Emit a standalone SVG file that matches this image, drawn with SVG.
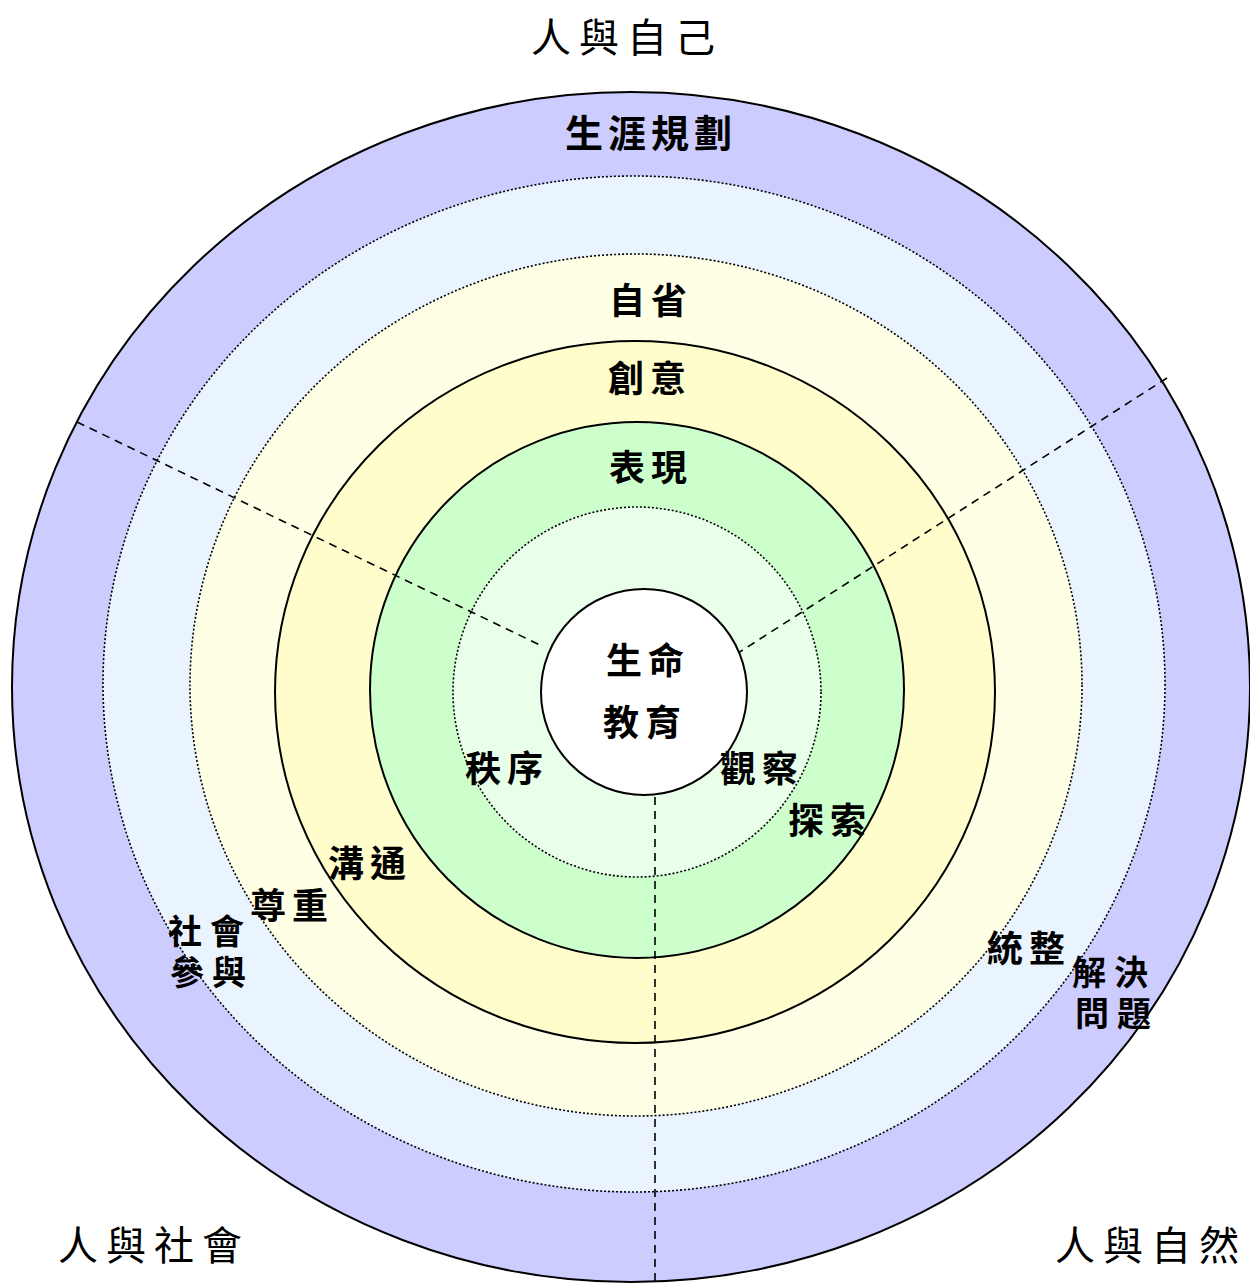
<svg xmlns="http://www.w3.org/2000/svg" width="1250" height="1283" viewBox="0 0 1250 1283">
<style>
.solid{stroke:#000;stroke-width:2}
.dot{stroke:#000;stroke-width:1.6;stroke-dasharray:2 2}
.dash{stroke:#000;stroke-width:1.6;stroke-dasharray:8 6;fill:none}
.lbl{font-family:"Noto Sans CJK TC","Noto Sans CJK SC",sans-serif;font-size:36px;font-weight:bold;letter-spacing:6px;fill:#000}
.stk{font-family:"Noto Sans CJK TC","Noto Sans CJK SC",sans-serif;font-size:34px;font-weight:bold;letter-spacing:8px;fill:#000}
.big{font-family:"Noto Sans CJK TC","Noto Sans CJK SC",sans-serif;font-size:40px;font-weight:normal;letter-spacing:8px;fill:#000}
</style>
<rect width="1250" height="1283" fill="#fff"/>
<g id="ring-career">
<ellipse cx="631" cy="687" rx="619" ry="595" fill="#CCCCFF" class="solid"/>
<text class="lbl" x="565" y="147" style="font-size:38px;letter-spacing:5px">生涯規劃</text>
</g>
<g id="ring-problem">
<ellipse cx="634" cy="684" rx="531" ry="508" fill="#EAF4FF" class="dot"/>
</g>
<g id="ring-reflect">
<ellipse cx="636" cy="685" rx="446" ry="431" fill="#FFFFE6" class="dot"/>
<text class="lbl" x="609" y="314">自省</text>
</g>
<g id="ring-creative">
<ellipse cx="635" cy="692" rx="360" ry="351" fill="#FFFDCC" class="solid"/>
<text class="lbl" x="608" y="392">創意</text>
</g>
<g id="ring-express">
<ellipse cx="637" cy="690" rx="267" ry="268" fill="#CCFFCC" class="solid"/>
<text class="lbl" x="609" y="481">表現</text>
</g>
<g id="ring-inner">
<ellipse cx="637" cy="692" rx="184" ry="185" fill="#E9FFE9" class="dot"/>
</g>
<g id="connectors">
<line class="dash" x1="77" y1="422" x2="540" y2="645"/>
<line class="dash" x1="1167" y1="378" x2="735" y2="655"/>
<line class="dash" x1="655" y1="797" x2="655" y2="1283"/>
</g>
<g id="center">
<ellipse cx="644" cy="692" rx="103" ry="103" fill="#fff" class="solid"/>
<text class="lbl"><tspan x="606" y="674">生命</tspan><tspan x="603" y="736">教育</tspan></text>
</g>
<g id="labels">
<text class="lbl" x="465" y="782">秩序</text>
<text class="lbl" x="720" y="782">觀察</text>
<text class="lbl" x="788" y="834">探索</text>
<text class="lbl" x="328" y="877">溝通</text>
<text class="lbl" x="250" y="919">尊重</text>
<text class="stk"><tspan x="168" y="944">社會</tspan><tspan x="170" y="985">參與</tspan></text>
<text class="lbl" x="987" y="962">統整</text>
<text class="stk"><tspan x="1072" y="985">解決</tspan><tspan x="1075" y="1026">問題</tspan></text>
</g>
<g id="domains">
<text class="big" x="531" y="52">人與自己</text>
<text class="big" x="58" y="1260">人與社會</text>
<text class="big" x="1055" y="1260">人與自然</text>
</g>
</svg>
